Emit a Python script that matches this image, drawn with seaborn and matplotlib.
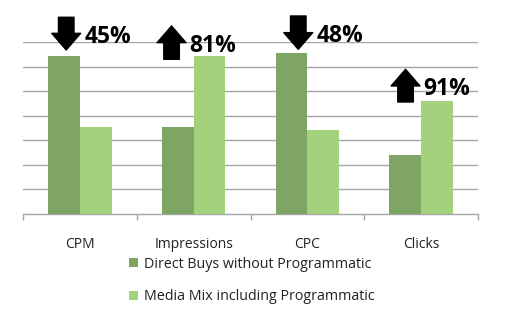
import numpy as np
import pandas as pd
import matplotlib
matplotlib.use("Agg")
import matplotlib.pyplot as plt
import seaborn as sns

# Campaign metrics compared across two buying strategies (relative index values)
metrics = ["CPM", "Impressions", "CPC", "Clicks"]
series_names = ["Direct Buys without Programmatic", "Media Mix including Programmatic"]
direct_values = [6.44, 3.55, 6.56, 2.41]
mix_values = [3.55, 6.44, 3.41, 4.61]
colors = ["#7ea563", "#a3d17c"]

df = pd.DataFrame({
    "metric": metrics * 2,
    "value": direct_values + mix_values,
    "series": [series_names[0]] * len(metrics) + [series_names[1]] * len(metrics),
})

sns.set_theme(style="white")
plt.rcParams["font.family"] = ["Open Sans", "DejaVu Sans"]

fig = plt.figure(figsize=(5.12, 3.28), dpi=100)
ax = fig.add_axes([23 / 512, 1 - 214 / 328, 455 / 512, 172 / 328])

sns.barplot(data=df, x="metric", y="value", hue="series", palette=colors,
            saturation=1, width=0.56, linewidth=0, edgecolor="none", ax=ax, zorder=3)

grid_grey = "#a6a6a6"
ax.set_ylim(0, 7)
ax.set_xlim(-0.5, len(metrics) - 0.5)
ax.set_yticks(np.arange(1, 8))
ax.yaxis.grid(True, color=grid_grey, linewidth=1.0, zorder=0)
ax.set_axisbelow(True)
ax.tick_params(axis="y", left=False, labelleft=False)
ax.set_xlabel("")
ax.set_ylabel("")
for side in ["left", "right", "top"]:
    ax.spines[side].set_visible(False)
ax.spines["bottom"].set_color(grid_grey)
ax.spines["bottom"].set_linewidth(1.0)

# category separators below the baseline
ax.set_xticks(np.arange(-0.5, len(metrics), 1.0), minor=True)
ax.tick_params(axis="x", which="minor", bottom=True, length=4, width=1, color=grid_grey)
ax.tick_params(axis="x", which="major", bottom=False, labelsize=10, pad=10.5, labelcolor="#222222")

# change arrows: direction, x position and vertical span of each arrow
arrow_dirs = ["down", "up", "down", "up"]
arrow_x = [-0.12, 0.806, 1.92, 2.863]
arrow_lo = [6.675, 6.296, 6.703, 4.558]
arrow_hi = [8.006, 7.652, 8.059, 5.889]

for i in range(len(metrics)):
    change = round(abs(mix_values[i] / direct_values[i] - 1) * 100)
    lo, hi = arrow_lo[i], arrow_hi[i]
    if arrow_dirs[i] == "down":
        tip, tail = lo, hi
    else:
        tip, tail = hi, lo
    ax.annotate("", xy=(arrow_x[i], tip), xytext=(arrow_x[i], tail),
                arrowprops=dict(arrowstyle="simple,head_length=0.6,head_width=1.04,tail_width=0.56",
                                color="black", mutation_scale=20, shrinkA=0, shrinkB=0),
                annotation_clip=False, zorder=5)
    ax.annotate(f"{change}%", xy=(arrow_x[i], (lo + hi) / 2), xytext=(13.0, -6.8),
                textcoords="offset points", ha="left", va="baseline",
                fontsize=16.5, fontweight="bold", color="black",
                annotation_clip=False, zorder=5)

handles, labels = ax.get_legend_handles_labels()
ax.legend(handles, labels, loc="upper left", bbox_to_anchor=(129 / 512, 1 - 257 / 328),
          bbox_transform=fig.transFigure, frameon=False, fontsize=10.3,
          handlelength=0.6, handleheight=0.6, handletextpad=0.42, labelspacing=1.22,
          borderpad=0, borderaxespad=0)
for t in ax.get_legend().get_texts():
    t.set_color("#222222")

fig.savefig("out.png", dpi=100, facecolor="white")
